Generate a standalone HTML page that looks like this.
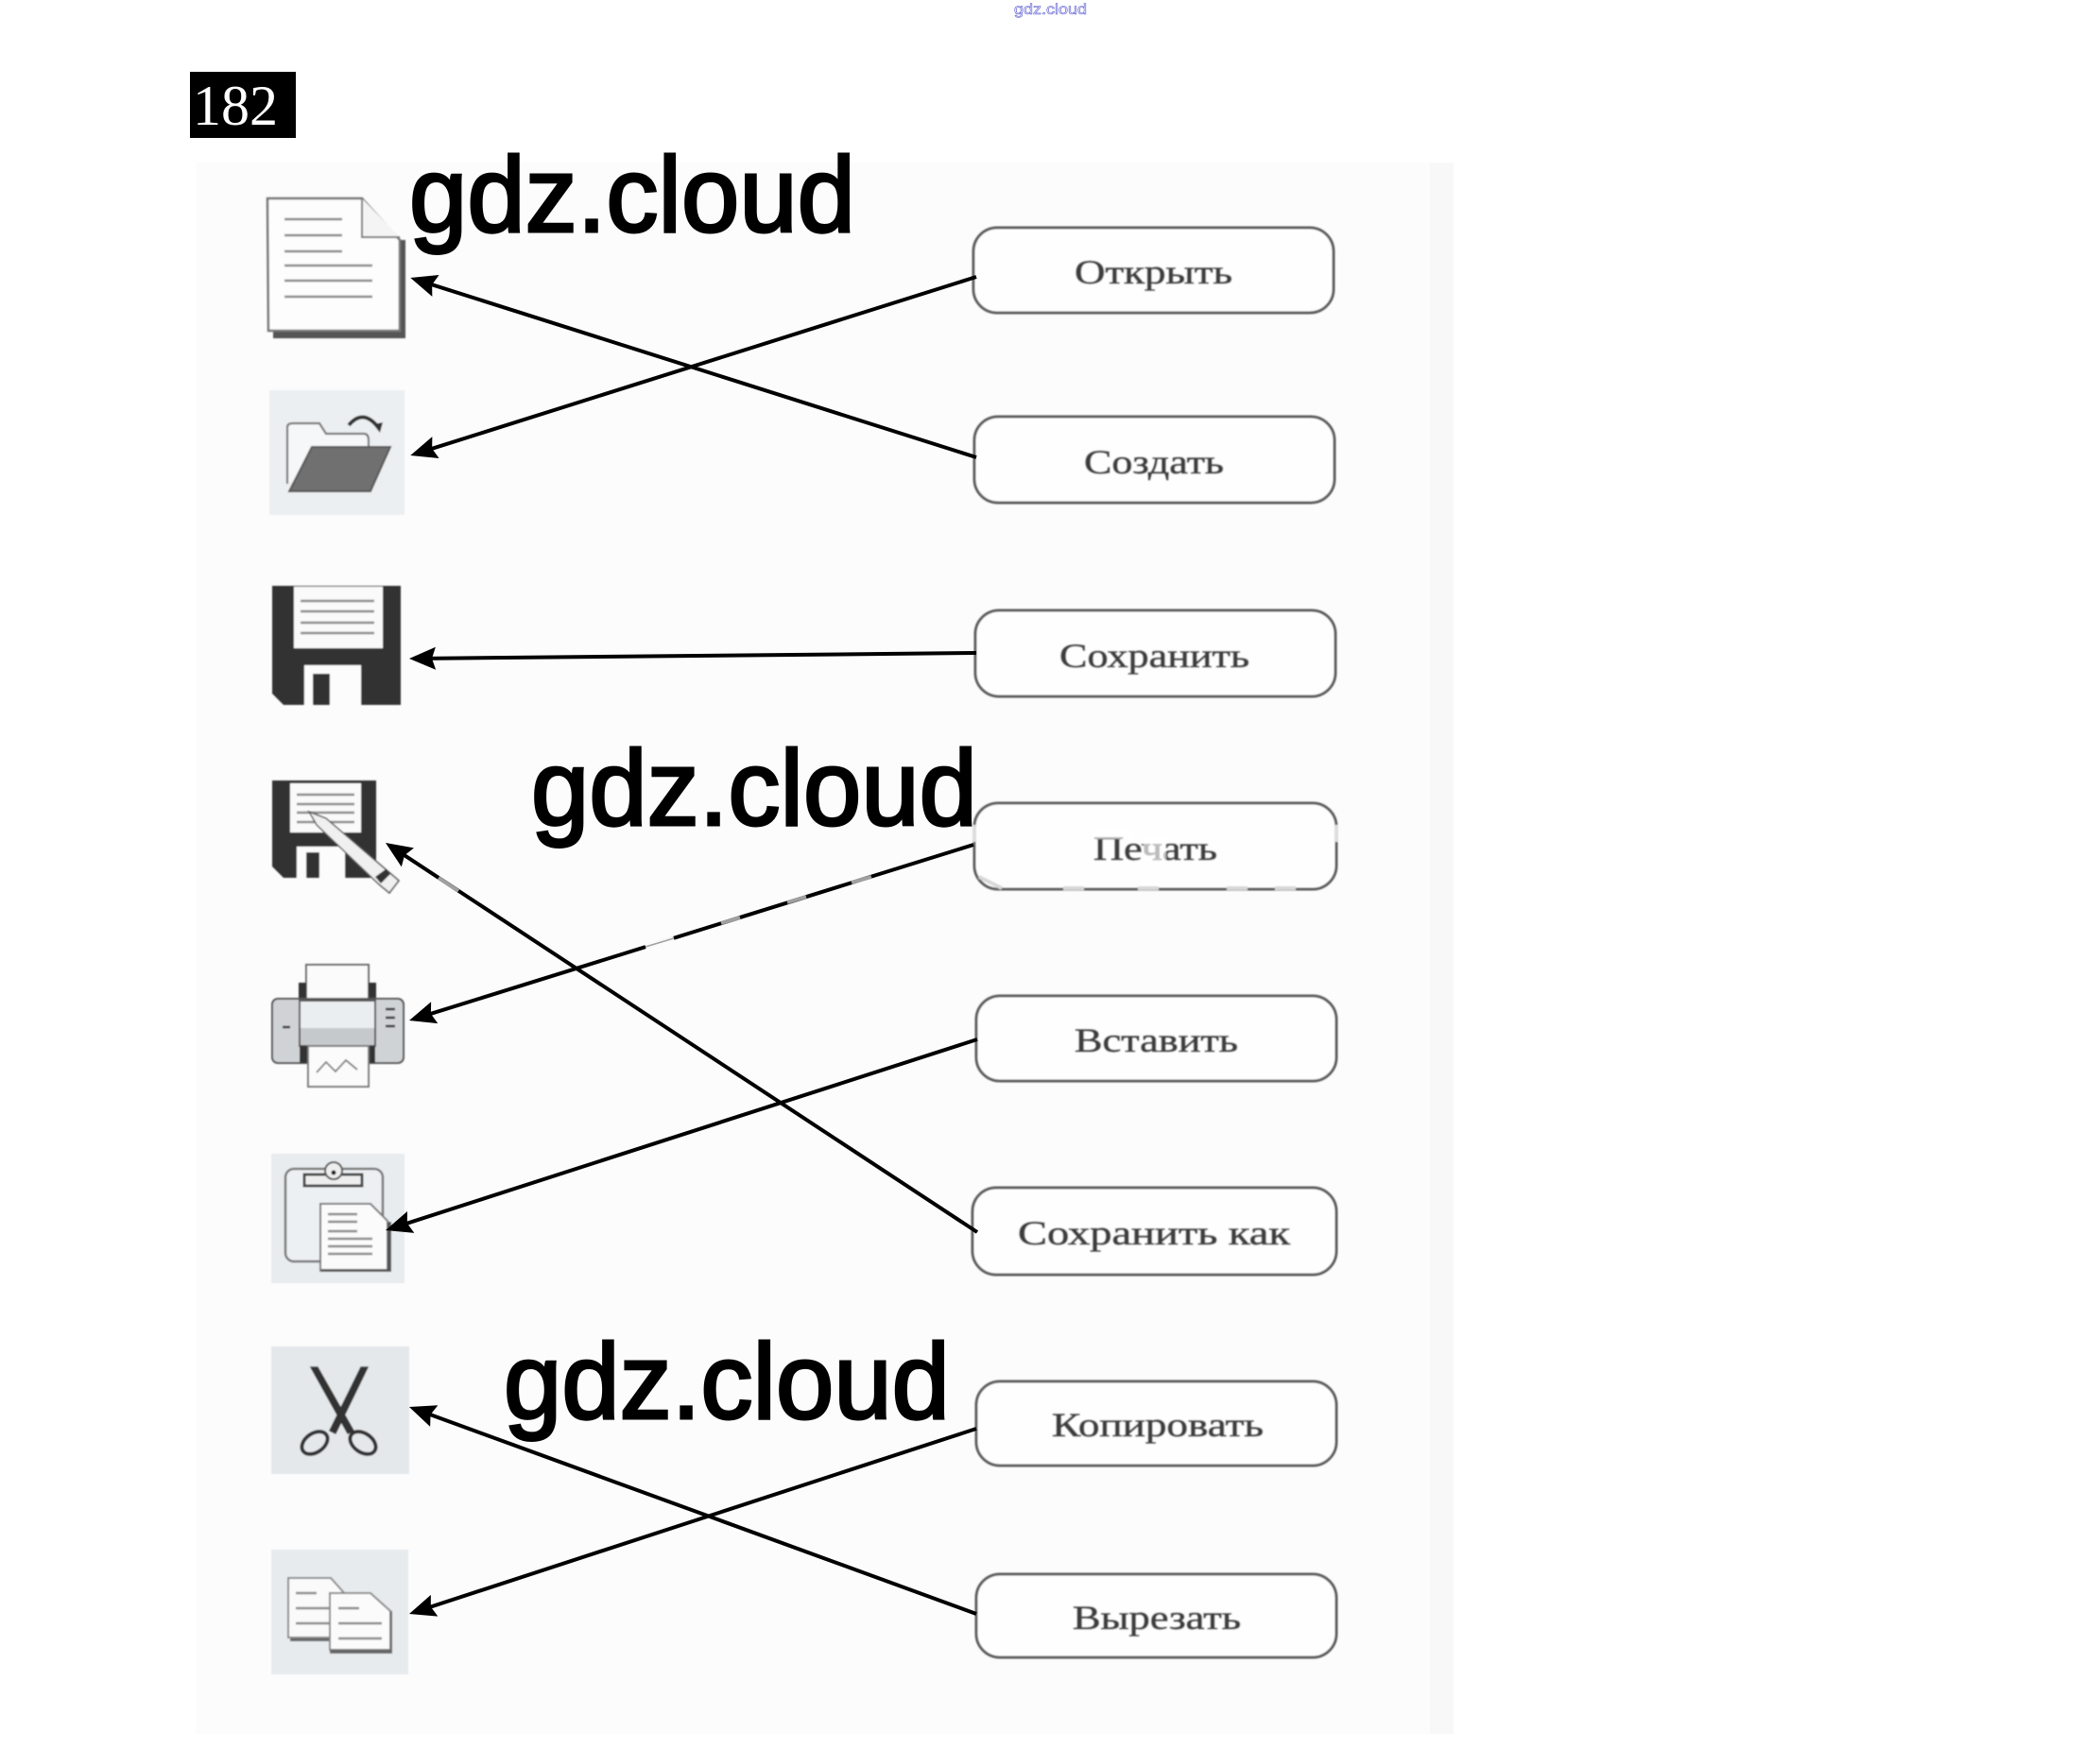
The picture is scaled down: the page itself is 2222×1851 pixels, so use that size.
<!DOCTYPE html>
<html lang="ru">
<head>
<meta charset="utf-8">
<title>182</title>
<style>
html,body{margin:0;padding:0;background:#fff;}
svg{display:block;}
.b{fill:#fefefe;stroke:#5c5c5c;stroke-width:3;}
.t{font-family:"Liberation Serif",serif;font-size:36px;fill:#3c3c3c;stroke:#4a4a4a;stroke-width:.9;}
.w{font-family:"Liberation Sans",sans-serif;font-size:113px;fill:#000;stroke:#000;stroke-width:3;}
.a{stroke:#000;stroke-width:4;fill:none;marker-end:url(#ah);}
.l{stroke:#888;stroke-width:2.4;}
.g{stroke:#a0a0a0;stroke-width:4;}
</style>
</head>
<body>
<svg width="2222" height="1851" viewBox="0 0 2222 1851" xmlns="http://www.w3.org/2000/svg">
<defs>
<marker id="ah" markerUnits="userSpaceOnUse" markerWidth="30" markerHeight="26" refX="22" refY="13" orient="auto">
<path d="M28,13 L0,1 L4,13 L0,25 Z" fill="#000"/>
</marker>
<filter id="s" x="-2%" y="-2%" width="104%" height="104%"><feGaussianBlur stdDeviation=".7"/></filter>
</defs>
<rect width="2222" height="1851" fill="#fff"/>
<text x="1073" y="15" font-family="Liberation Sans, sans-serif" font-size="16" textLength="77" lengthAdjust="spacingAndGlyphs" fill="#fff" stroke="#5a5ad0" stroke-width=".6">gdz.cloud</text>
<rect x="201" y="76" width="112" height="70" fill="#000"/>
<text x="204" y="132" font-family="Liberation Serif, serif" font-size="60" textLength="90" lengthAdjust="spacingAndGlyphs" fill="#fff">182</text>
<rect x="207" y="172" width="1331" height="1663" fill="#fcfcfc"/>
<rect x="1513" y="172" width="25" height="1663" fill="#f8f8f8"/>

<g filter="url(#s)">
<!-- new doc -->
<path d="M423,254 H429 V358 H289 V350 H423Z" fill="#555"/>
<path d="M283,210 H383 L423,254 V350 H284Z" fill="#fdfdfd" stroke="#777" stroke-width="2.5"/>
<path d="M383,210 V251 H423" fill="#f4f4f4" stroke="#777" stroke-width="2"/>
<path class="l" d="M301,232H362M301,249H362M301,266H362M301,281H394M301,297H394M301,314H394"/>
<!-- open -->
<rect x="285" y="413" width="143" height="132" fill="#eceff1"/>
<path d="M304,512 V452 Q304,448 310,448 H338 L345,459 H385 Q390,459 390,466 V480" fill="#f6f7f8" stroke="#777" stroke-width="2.2"/>
<path d="M330,473 H413 L392,520 H306Z" fill="#6f6f6f" stroke="#555" stroke-width="2"/>
<path d="M369,450 Q384,432 400,452" fill="none" stroke="#333" stroke-width="4"/>
<path d="M395,449 L405,447 L402,458Z" fill="#333"/>
<!-- floppy -->
<path d="M288,620 H424 V746 H300 L288,734Z" fill="#333"/>
<rect x="311" y="621" width="94" height="65" fill="#fafafa"/>
<path class="l" d="M318,636H396M318,647H396M318,659H396M318,670H396" stroke-width="3"/>
<rect x="322" y="704" width="60" height="42" fill="#fcfcfc"/>
<rect x="331" y="713" width="18" height="33" fill="#333"/>
<!-- floppy pencil -->
<path d="M288,826 H398 V929 H300 L288,917Z" fill="#333"/>
<rect x="307" y="829" width="75" height="52" fill="#fafafa"/>
<path class="l" d="M314,841H375M314,851H375M314,860H375M314,870H375"/>
<rect x="314" y="896" width="51" height="33" fill="#fcfcfc"/>
<rect x="324" y="902" width="14" height="27" fill="#333"/>
<path d="M327,859 L345,866 L422,932 L412,945 L401,936 L335,873Z" fill="#f0f0f0" stroke="#555" stroke-width="1.5"/>
<path d="M397,928 L408,920 L413,925 L403,935Z" fill="#333"/>
<!-- printer -->
<rect x="324" y="1021" width="66" height="38" fill="#fbfbfb" stroke="#666" stroke-width="2"/>
<rect x="316" y="1040" width="8" height="18" fill="#333"/><rect x="390" y="1040" width="8" height="18" fill="#333"/>
<rect x="288" y="1057" width="139" height="68" rx="6" fill="#d0d3d5" stroke="#555" stroke-width="2"/>
<rect x="317" y="1059" width="80" height="48" fill="#eaeef0" stroke="#555" stroke-width="2"/>
<rect x="318" y="1088" width="78" height="18" fill="#c6c9cb"/>
<rect x="317" y="1107" width="80" height="18" fill="#333"/>
<rect x="326" y="1107" width="64" height="43" fill="#fbfbfb" stroke="#777" stroke-width="2"/>
<path d="M335,1135 L345,1124 L355,1134 L366,1122 L378,1132" fill="none" stroke="#777" stroke-width="1.8"/>
<path d="M408,1068h10M408,1077h10M408,1086h10M299,1087h8" stroke="#333" stroke-width="2.5"/>
<!-- paste -->
<rect x="287" y="1221" width="141" height="137" fill="#e8ecef"/>
<rect x="302" y="1237" width="103" height="98" rx="9" fill="#edf0f3" stroke="#777" stroke-width="2.5"/>
<path d="M322,1243 H383 V1255 H322Z" fill="#eee" stroke="#444" stroke-width="3"/>
<circle cx="353" cy="1239" r="9" fill="#eee" stroke="#555" stroke-width="2"/>
<circle cx="353" cy="1241" r="2.5" fill="#222"/>
<path d="M339,1274 H392 L410,1292 V1345 H339Z" fill="#fbfbfb" stroke="#777" stroke-width="2"/>
<path d="M410,1293 H414 V1346 H340 V1343 H410Z" fill="#555"/>
<path class="l" d="M347,1285H378M347,1293H378M347,1303H378M347,1311H394M347,1319H394M347,1327H394" stroke-width="2"/>
<!-- scissors -->
<rect x="287" y="1425" width="146" height="135" fill="#e4e8eb"/>
<path d="M329,1447 L336,1447 L374,1514 L368,1517Z" fill="#333" stroke="#333" stroke-width="1.5"/>
<path d="M389,1447 L382,1447 L349,1514 L355,1517Z" fill="#333" stroke="#333" stroke-width="1.5"/>
<ellipse cx="333" cy="1527" rx="15" ry="10" transform="rotate(-35 333 1527)" fill="#e4e8eb" stroke="#333" stroke-width="4"/>
<ellipse cx="384" cy="1527" rx="15" ry="10" transform="rotate(35 384 1527)" fill="#e4e8eb" stroke="#333" stroke-width="4"/>
<!-- copy -->
<rect x="287" y="1640" width="145" height="132" fill="#e7ebee"/>
<path d="M307,1733 H365 V1737 H307Z" fill="#666"/>
<path d="M305,1670 H350 L366,1688 V1733 H305Z" fill="#fafafa" stroke="#888" stroke-width="2"/>
<path d="M349,1686 H392 L413,1705 V1746 H349Z" fill="#fbfbfb" stroke="#888" stroke-width="2"/>
<path d="M413,1705 H415 V1750 H349 V1746 H413Z" fill="#666"/>
<path class="l" d="M313,1686H335M313,1702H348M313,1718H348M358,1702H380M358,1718H404M358,1734H404"/>

<!-- buttons -->
<rect class="b" x="1030" y="241" width="381" height="90" rx="25"/>
<rect class="b" x="1031" y="441" width="381" height="91" rx="25"/>
<rect class="b" x="1032" y="646" width="381" height="91" rx="25"/>
<rect class="b" x="1031" y="850" width="383" height="91" rx="25"/>
<rect class="b" x="1033" y="1054" width="381" height="90" rx="25"/>
<rect class="b" x="1029" y="1257" width="385" height="92" rx="25"/>
<rect class="b" x="1033" y="1462" width="381" height="89" rx="25"/>
<rect class="b" x="1033" y="1666" width="381" height="88" rx="25"/>

<text class="t" x="1137" y="300" textLength="167" lengthAdjust="spacingAndGlyphs">Открыть</text>
<text class="t" x="1147" y="501" textLength="148" lengthAdjust="spacingAndGlyphs">Создать</text>
<text class="t" x="1121" y="706" textLength="201" lengthAdjust="spacingAndGlyphs">Сохранить</text>
<text class="t" x="1157" y="910" textLength="131" lengthAdjust="spacingAndGlyphs">Печать</text>
<text class="t" x="1137" y="1113" textLength="173" lengthAdjust="spacingAndGlyphs">Вставить</text>
<text class="t" x="1077" y="1317" textLength="288" lengthAdjust="spacingAndGlyphs">Сохранить как</text>
<text class="t" x="1113" y="1520" textLength="224" lengthAdjust="spacingAndGlyphs">Копировать</text>
<text class="t" x="1135" y="1724" textLength="178" lengthAdjust="spacingAndGlyphs">Вырезать</text>

<!-- white watermark damage on Печать -->
<g stroke="#d8d8d8" stroke-width="4">
<path d="M1036,928L1060,940M1125,940H1147M1204,940H1226M1298,940H1320M1349,940H1371"/>
</g>
<path d="M1031,873V891M1414,873V891" stroke="#ddd" stroke-width="4"/>
<rect x="1155" y="878" width="45" height="10" fill="#fff" opacity=".6"/>
<rect x="1210" y="885" width="24" height="26" fill="#fff" opacity=".65"/>
</g>

<!-- arrows -->
<line class="a" x1="1033" y1="484" x2="440" y2="295.8"/>
<line class="a" x1="1033" y1="293" x2="440" y2="480.2"/>
<line class="a" x1="1033" y1="691" x2="439" y2="697"/>
<line class="a" x1="1034" y1="1304" x2="413" y2="895.3"/>
<line class="a" x1="1030" y1="894" x2="438.7" y2="1078.2"/>
<line class="a" x1="1034" y1="1100" x2="413.7" y2="1300.2"/>
<line class="a" x1="1033" y1="1708" x2="438.6" y2="1491"/>
<line class="a" x1="1033" y1="1512" x2="438.7" y2="1706.1"/>

<!-- faded segments -->
<line class="g" x1="464" y1="929" x2="485" y2="943"/>
<line class="g" x1="763" y1="977" x2="783" y2="971"/>
<line class="g" x1="833" y1="955" x2="853" y2="949"/>
<line class="g" x1="901" y1="934" x2="922" y2="928"/>
<line x1="683" y1="1002" x2="713" y2="993" stroke="#fcfcfc" stroke-width="4.4"/>
<line x1="683" y1="1002" x2="713" y2="993" stroke="#a0a0a0" stroke-width="1.6"/>

<!-- large watermarks -->
<text class="w" x="433" y="245" textLength="472" lengthAdjust="spacingAndGlyphs">gdz.cloud</text>
<text class="w" x="562" y="873" textLength="472" lengthAdjust="spacingAndGlyphs">gdz.cloud</text>
<text class="w" x="533" y="1501" textLength="472" lengthAdjust="spacingAndGlyphs">gdz.cloud</text>
</svg>
</body>
</html>
